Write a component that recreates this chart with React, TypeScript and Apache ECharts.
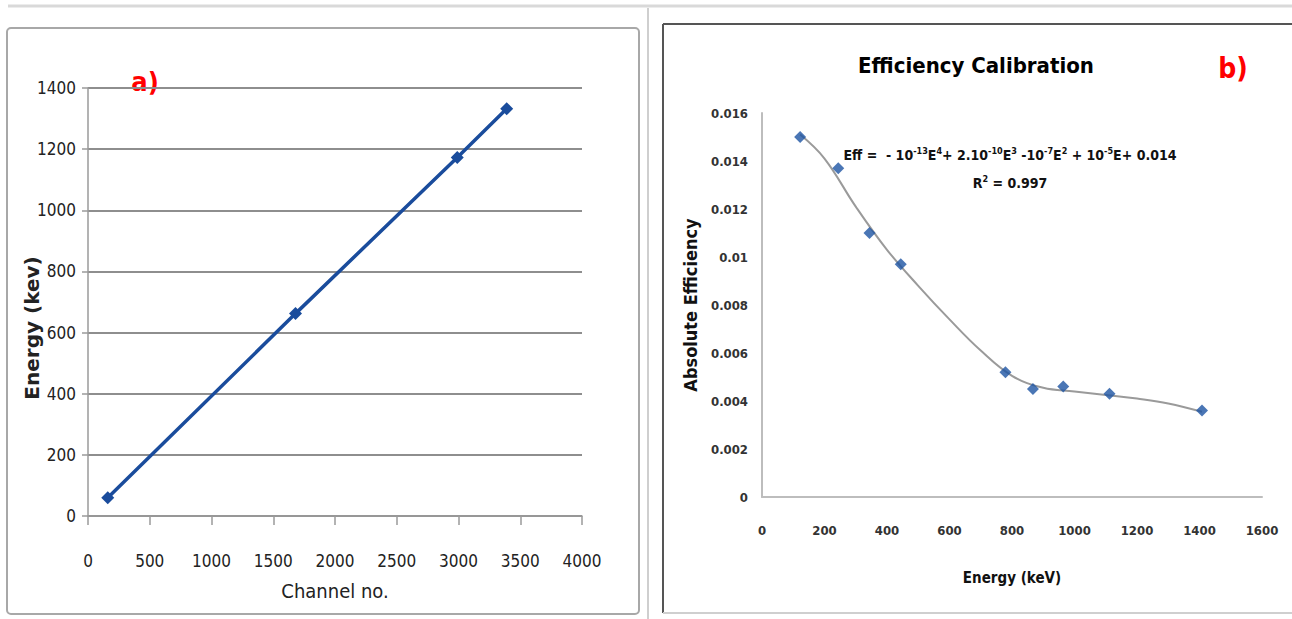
import React, { useEffect, useRef } from "react";
import * as echarts from "echarts";

// Panel a) energy calibration
const channels = [160, 1680, 2990, 3390];
const energiesA = [59.5, 662, 1173, 1332];

// Panel b) efficiency calibration
const effEnergy = [122, 244, 344, 444, 779, 867, 964, 1112, 1408];
const effValues = [0.015, 0.0137, 0.011, 0.0097, 0.0052, 0.0045, 0.0046, 0.0043, 0.0036];

// Trend line points
const trendEnergy = [122, 200, 300, 400, 500, 600, 700, 800, 900, 1000, 1100, 1200, 1300, 1408];
const trendEff = [0.0151, 0.0141, 0.0121, 0.0103, 0.0088, 0.0074, 0.0061, 0.00505, 0.00455, 0.0044, 0.00425, 0.0041, 0.0039, 0.00355];

const NARROW = "'DejaVu Sans Condensed', 'Liberation Sans Narrow', sans-serif";

export default function App() {
  const ref = useRef<HTMLDivElement>(null);

  useEffect(() => {
    const chart = echarts.init(ref.current as HTMLDivElement, null, { renderer: "svg" });

    const seriesA = channels.map((c, i) => [c, energiesA[i]]);
    const seriesB = effEnergy.map((e, i) => [e, effValues[i]]);
    const trendB = trendEnergy.map((e, i) => [e, trendEff[i]]);
    const plain = (v: number) => String(v);

    chart.setOption({
      animation: false,
      backgroundColor: "#ffffff",
      grid: [
        { left: 88, top: 88, width: 494, height: 428 },
        { left: 762, top: 113, width: 500, height: 384 },
      ],
      xAxis: [
        {
          type: "value",
          gridIndex: 0,
          min: 0,
          max: 4000,
          interval: 500,
          name: "Channel no.",
          nameLocation: "middle",
          nameGap: 65,
          nameTextStyle: { fontFamily: NARROW, fontSize: 20, color: "#222" },
          axisLine: { show: true, lineStyle: { color: "#9a9a9a", width: 1.5 } },
          axisTick: { show: true, length: 9, lineStyle: { color: "#9a9a9a", width: 1.5 } },
          axisLabel: { margin: 36, fontFamily: NARROW, fontSize: 17, color: "#222", formatter: plain },
          splitLine: { show: false },
        },
        {
          type: "value",
          gridIndex: 1,
          min: 0,
          max: 1600,
          interval: 200,
          name: "Energy (keV)",
          nameLocation: "middle",
          nameGap: 73,
          nameTextStyle: { fontFamily: NARROW, fontSize: 15, fontWeight: "bold", color: "#111" },
          axisLine: { show: true, lineStyle: { color: "#bdbdbd", width: 2 } },
          axisTick: { show: false },
          axisLabel: { margin: 27, fontFamily: NARROW, fontSize: 13, fontWeight: "bold", color: "#333", formatter: plain },
          splitLine: { show: false },
        },
      ],
      yAxis: [
        {
          type: "value",
          gridIndex: 0,
          min: 0,
          max: 1400,
          interval: 200,
          axisLine: { show: true, lineStyle: { color: "#9a9a9a", width: 1.5 } },
          axisTick: { show: true, length: 6, lineStyle: { color: "#9a9a9a", width: 1.5 } },
          axisLabel: { margin: 12, fontFamily: NARROW, fontSize: 17, color: "#222", formatter: plain },
          splitLine: { show: true, lineStyle: { color: "#8e8e8e", width: 2 } },
        },
        {
          type: "value",
          gridIndex: 1,
          min: 0,
          max: 0.016,
          interval: 0.002,
          name: "Absolute Efficiency",
          nameLocation: "middle",
          nameGap: 63,
          nameTextStyle: { fontFamily: NARROW, fontSize: 18, fontWeight: "bold", color: "#111" },
          axisLine: { show: true, lineStyle: { color: "#bdbdbd", width: 2 } },
          axisTick: { show: false },
          axisLabel: {
            margin: 14,
            fontFamily: NARROW,
            fontSize: 13,
            fontWeight: "bold",
            color: "#333",
            formatter: (v: number) => String(parseFloat(v.toFixed(3))),
          },
          splitLine: { show: false },
        },
      ],
      series: [
        {
          type: "line",
          xAxisIndex: 0,
          yAxisIndex: 0,
          data: seriesA,
          symbol: "diamond",
          symbolSize: 13,
          lineStyle: { color: "#1a4c9c", width: 3.5 },
          itemStyle: { color: "#1a4c9c" },
        },
        {
          type: "line",
          xAxisIndex: 1,
          yAxisIndex: 1,
          data: trendB,
          smooth: 0.4,
          showSymbol: false,
          symbol: "none",
          lineStyle: { color: "#9a9a9a", width: 2 },
          z: 1,
        },
        {
          type: "scatter",
          xAxisIndex: 1,
          yAxisIndex: 1,
          data: seriesB,
          symbol: "diamond",
          symbolSize: 12,
          itemStyle: { color: "#1d54a3" },
          z: 3,
        },
      ],
      graphic: [
        { type: "line", shape: { x1: 8, y1: 6, x2: 1292, y2: 6 }, style: { stroke: "#d9d9d9", lineWidth: 3 } },
        { type: "line", shape: { x1: 648, y1: 8, x2: 648, y2: 619 }, style: { stroke: "#cfcfcf", lineWidth: 2 } },
        {
          type: "rect",
          shape: { x: 7, y: 28, width: 632, height: 586, r: 4 },
          style: { fill: "none", stroke: "#a8a8a8", lineWidth: 2 },
        },
        { type: "line", shape: { x1: 663, y1: 24, x2: 1292, y2: 24 }, style: { stroke: "#555", lineWidth: 2 } },
        { type: "line", shape: { x1: 663, y1: 24, x2: 663, y2: 613 }, style: { stroke: "#555", lineWidth: 2 } },
        { type: "line", shape: { x1: 663, y1: 613, x2: 1292, y2: 613 }, style: { stroke: "#cfcfcf", lineWidth: 2 } },
        {
          type: "text",
          x: 145,
          y: 81,
          style: {
            text: "a)",
            fill: "#ff0000",
            fontFamily: NARROW,
            fontSize: 27,
            fontWeight: "bold",
            align: "center",
            verticalAlign: "middle",
          },
        },
        {
          type: "text",
          x: 1233,
          y: 68,
          style: {
            text: "b)",
            fill: "#ff0000",
            fontFamily: NARROW,
            fontSize: 28,
            fontWeight: "bold",
            align: "center",
            verticalAlign: "middle",
          },
        },
        {
          type: "text",
          x: 976,
          y: 65,
          style: {
            text: "Efficiency Calibration",
            fill: "#000",
            fontFamily: NARROW,
            fontSize: 22,
            fontWeight: "bold",
            align: "center",
            verticalAlign: "middle",
          },
        },
        {
          type: "text",
          x: 32,
          y: 328,
          rotation: Math.PI / 2,
          style: {
            text: "Energy (kev)",
            fill: "#222",
            fontFamily: "'DejaVu Sans', sans-serif",
            fontSize: 20,
            fontWeight: "bold",
            align: "center",
            verticalAlign: "middle",
          },
        },
        {
          type: "text",
          x: 1010,
          y: 155,
          style: {
            text: "Eff =  - 10{s|-13}E{s|4}+ 2.10{s|-10}E{s|3} -10{s|-7}E{s|2} + 10{s|-5}E+ 0.014",
            fill: "#111",
            fontFamily: NARROW,
            fontSize: 14,
            fontWeight: "bold",
            lineHeight: 18,
            align: "center",
            verticalAlign: "middle",
            rich: {
              s: { fontFamily: NARROW, fontSize: 9, fontWeight: "bold", fill: "#111", verticalAlign: "top", lineHeight: 18 },
            },
          },
        },
        {
          type: "text",
          x: 1010,
          y: 183,
          style: {
            text: "R{s|2} = 0.997",
            fill: "#111",
            fontFamily: NARROW,
            fontSize: 14,
            fontWeight: "bold",
            lineHeight: 18,
            align: "center",
            verticalAlign: "middle",
            rich: {
              s: { fontFamily: NARROW, fontSize: 9, fontWeight: "bold", fill: "#111", verticalAlign: "top", lineHeight: 18 },
            },
          },
        },
      ],
    });

    return () => chart.dispose();
  }, []);

  return (
    <div
      ref={ref}
      style={{ position: "absolute", left: 0, top: 0, width: 1292, height: 619, background: "#fff" }}
    />
  );
}
